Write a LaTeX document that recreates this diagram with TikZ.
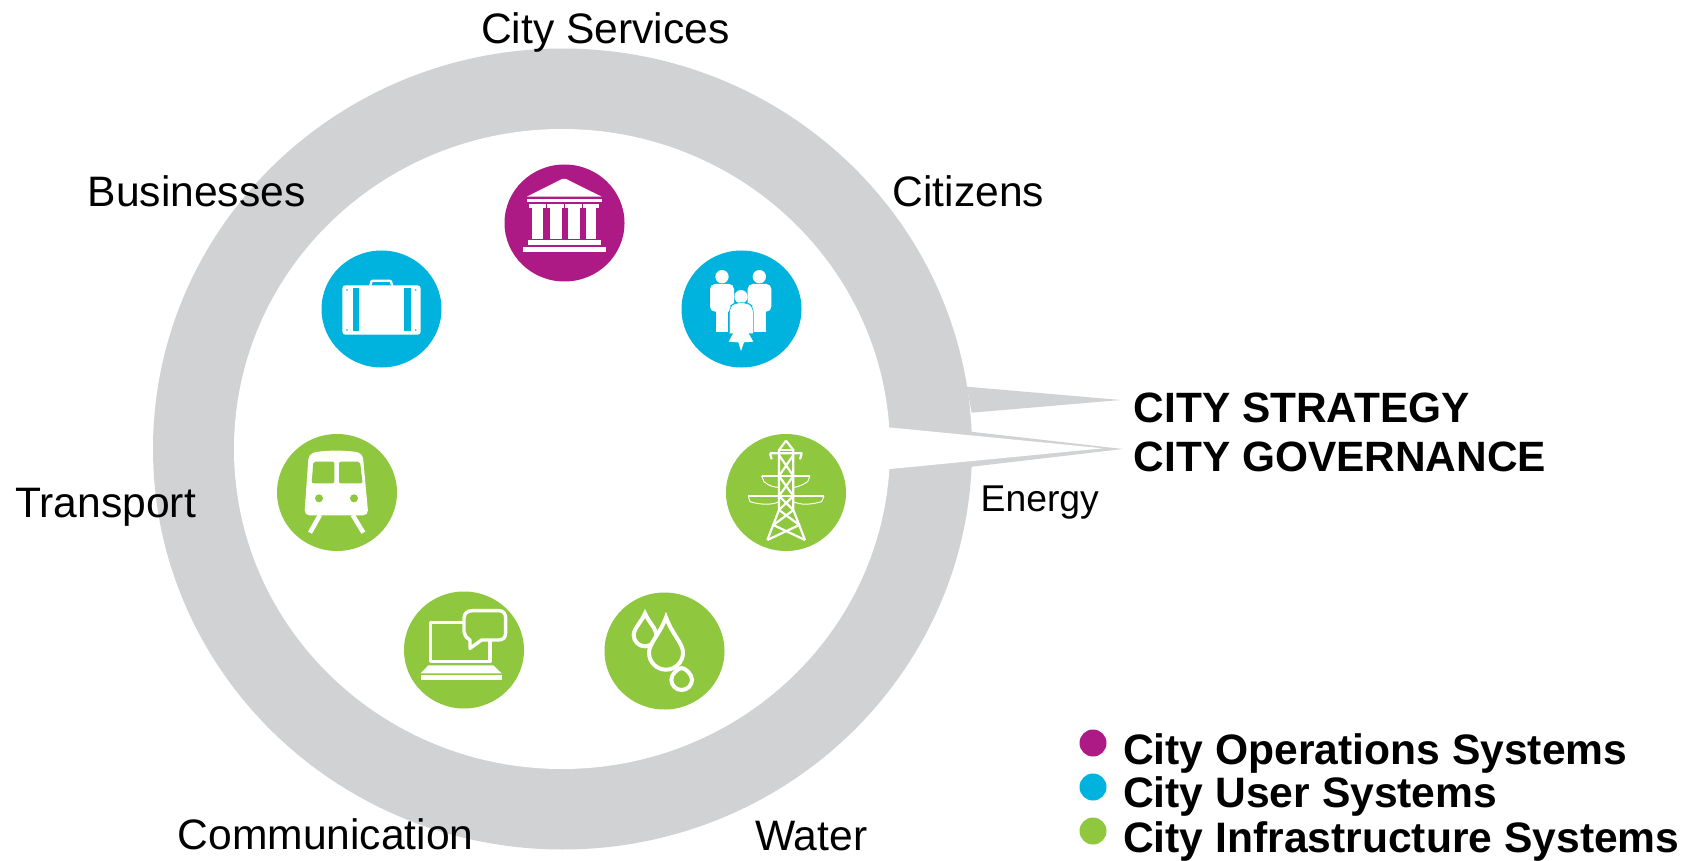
\documentclass[tikz,border=0pt]{standalone}
\usepackage{fontspec}
\setmainfont{Liberation Sans}
\definecolor{ringgrey}{HTML}{D0D2D4}
\definecolor{opspurple}{HTML}{AE1A85}
\definecolor{userblue}{HTML}{00B3DE}
\definecolor{infragreen}{HTML}{8FC73E}
\tikzset{
  lbl/.style={anchor=base west,inner sep=0pt,font=\fontsize{42.6}{50}\selectfont,text=black},
  lblsmall/.style={lbl,font=\fontsize{37.3}{44}\selectfont},
  lblbold/.style={lbl,font=\fontsize{42.4}{50}\selectfont\bfseries},
  legendtxt/.style={lbl,font=\fontsize{42.6}{50}\selectfont\bfseries},
  wline/.style={draw=white,line cap=round,line join=round},
}
\newcommand{\icondisc}[3]{\fill[#1] (#2,#3) ellipse [x radius=60,y radius=58.5];}
\newcommand{\dropshape}[4]{% tip x, tip y, centre y, radius
  (#1,#2) .. controls (#1-#4*0.35,#3-#4*1.1) and (#1-#4,#3-#4*0.55) .. (#1-#4,#3)
  arc[start angle=180,end angle=0,radius=#4]
  .. controls (#1+#4,#3-#4*0.55) and (#1+#4*0.35,#3-#4*1.1) .. (#1,#2) -- cycle}
\begin{document}
\begin{tikzpicture}[x=1pt,y=-1pt]
\useasboundingbox (0,0) rectangle (1698,861);
% ring and callout
\fill[ringgrey] (562.5,449) ellipse [x radius=409.5,y radius=400.5];
\fill[ringgrey] (966.7,386.7) -- (1120.7,400) -- (971.7,412.7) -- cycle;
\fill[ringgrey] (965,431) -- (1123,449) -- (965,467.5) -- cycle;
\fill[white] (562,449) ellipse [x radius=328,y radius=320];
\fill[white] (880,426.5) -- (1103,448.3) -- (880,470) -- cycle;
% discs
\icondisc{opspurple}{564.5}{223}
\icondisc{userblue}{741.5}{309}
\icondisc{userblue}{381.5}{309}
\icondisc{infragreen}{337}{492.5}
\icondisc{infragreen}{786}{492.5}
\icondisc{infragreen}{464}{650}
\icondisc{infragreen}{664.5}{651}
% temple
\begin{scope}[shift={(480,140)},scale=0.33333]
\fill[white] (140,170) -- (246,117) -- (258,117) -- (365,170) -- cycle;
\fill[white] (140,176) rectangle (365,186);
\foreach \a/\b in {157/190,211/246,265/299,317/349}{
  \fill[white] (\a,200) rectangle (\b,297);
  \fill[white] (\a-9,192) rectangle (\b+7,203);
}
\fill[white] (143,299) rectangle (363,316);
\fill[white] (130,321) rectangle (377,336);
% people
\fill[white] (726,410) circle [radius=20];
\fill[white] (838,410) circle [radius=20];
\fill[white,rounded corners=5pt] (690,515) -- (690,432) -- (762,432) -- (762,515) -- cycle;
\fill[white] (707,505) rectangle (745,577);
\fill[white,rounded corners=5pt] (803,515) -- (803,432) -- (874,432) -- (874,515) -- cycle;
\fill[white] (820,505) rectangle (858,577);
\fill[white] (783,470) circle [radius=20];
\fill[white] (765,570) -- (800,570) -- (820,605) -- (792,607) -- (783,633) -- (775,607) -- (746,605) -- cycle;
\draw[userblue,line width=0.6pt,fill=white,rounded corners=6pt] (748,580) -- (748,500) -- (765,488) -- (803,488) -- (820,500) -- (820,580);
\end{scope}
% briefcase and train
\begin{scope}[shift={(300,240)},scale=0.33333]
\draw[white,line width=2.3pt,rounded corners=1pt] (210,140) -- (215,122) -- (272,122) -- (278,140);
\fill[white,rounded corners=3pt] (127,136) rectangle (362,284);
\fill[userblue] (158,143) rectangle (177,272);
\fill[userblue] (312,143) rectangle (332,272);
\foreach \p in {(141,150),(347,150),(141,270),(347,270)}{\fill[userblue] \p circle [radius=2.5];}
% train
\fill[white,rounded corners=5pt] (26,642) .. controls (70,630) and (140,630) .. (188,640) -- (205,826) -- (13,826) -- cycle;
\fill[infragreen,rounded corners=2pt] (40,665) -- (103,665) -- (103,730) -- (35,730) -- cycle;
\fill[infragreen,rounded corners=2pt] (117,665) -- (180,665) -- (188,730) -- (117,730) -- cycle;
\fill[infragreen] (57,775) circle [radius=12];
\fill[infragreen] (162,775) circle [radius=12];
\draw[white,line width=4.5pt] (60,825) -- (30,878);
\draw[white,line width=4.5pt] (158,825) -- (190,878);
\end{scope}
% laptop and water
\begin{scope}[shift={(390,580)},scale=0.33333]
\draw[wline,line width=3.4pt] (222,128) -- (122,128) -- (122,245) -- (300,245) -- (300,182);
\draw[wline,line width=3.4pt,fill=infragreen] (247,92) -- (325,92) .. controls (340,92) and (347,100) .. (347,115)
  -- (347,158) .. controls (347,172) and (340,180) .. (325,180) -- (275,180) -- (240,205) -- (240,180)
  .. controls (228,172) and (222,165) .. (222,155) -- (222,115) .. controls (222,100) and (232,92) .. (247,92) -- cycle;
\fill[white] (92,280) -- (115,256) -- (310,256) -- (335,280) -- cycle;
\fill[white] (92,286) rectangle (335,299);
\draw[white,line width=4pt,line join=miter,fill=infragreen] \dropshape{765}{100}{165}{34};
\draw[white,line width=4pt,line join=miter,fill=infragreen] \dropshape{875}{264}{299}{31};
\draw[white,line width=4pt,line join=miter,fill=infragreen] \dropshape{828}{112}{218}{51};
\end{scope}
% pylon
\begin{scope}[shift={(710,370)},scale=0.33333,every path/.style={draw=white,line width=2.2pt,line join=round}]
\path (228,212) -- (207,240) -- (207,420) -- (172,510);
\path (228,212) -- (250,240) -- (250,420) -- (285,510);
\path (207,240) -- (250,240);
\path (180,250) -- (275,250) -- (270,268);
\path (180,250) -- (185,268);
\path (155,318) -- (300,318);
\path (115,378) -- (342,378);
\foreach \ya/\yb in {255/318,318/378,378/420}{
  \path (207,\ya) -- (250,\yb);
  \path (250,\ya) -- (207,\yb);
}
\path (207,420) -- (268,465) -- (172,510);
\path (250,420) -- (190,465) -- (285,510);
\end{scope}
\begin{scope}[shift={(710,370)},scale=0.33333,every path/.style={draw=white,line width=1pt,line join=round}]
\path (300,318) -- (293,335) .. controls (270,350) and (255,352) .. (250,352);
\path (155,318) -- (162,335) .. controls (180,350) and (195,352) .. (207,352);
\path (342,378) -- (335,395) .. controls (300,405) and (270,405) .. (250,395);
\path (115,378) -- (120,395) .. controls (150,405) and (190,405) .. (207,395);
\end{scope}
% labels
\node[lbl] (services) at (481,44) {City Services};
\node[lbl] (businesses) at (87.5,207) {Businesses};
\node[lbl] (citizens) at (892.5,207) {Citizens};
\node[lbl] (transport) at (15,517) {Transport};
\node[lblsmall] (energy) at (980.5,511) {Energy};
\node[lbl] (comm) at (177.5,849) {Communication};
\node[lbl] (water) at (755,850) {Water};
\node[lblbold] (strategy) at (1133.5,422) {CITY STRATEGY};
\node[lblbold] (governance) at (1133.5,471) {CITY GOVERNANCE};
% legend
\fill[opspurple] (1093,743) circle [radius=13.5];
\fill[userblue] (1093,787) circle [radius=13.5];
\fill[infragreen] (1093,831) circle [radius=13.5];
\node[legendtxt] (legops) at (1123,764) {City Operations Systems};
\node[legendtxt] (leguser) at (1123,807) {City User Systems};
\node[legendtxt] (leginfra) at (1123,852) {City Infrastructure Systems};
\end{tikzpicture}
\end{document}
